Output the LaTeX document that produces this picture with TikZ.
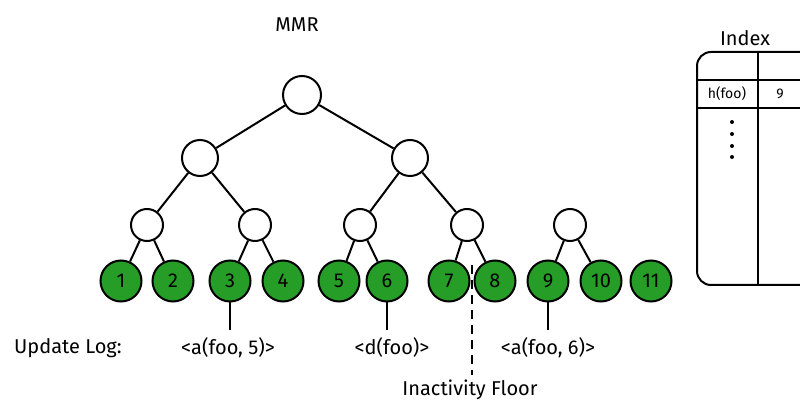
\documentclass[tikz,border=0pt]{standalone}
\usepackage{fontspec}
\setmainfont{Fira Sans}
\begin{document}
\begin{tikzpicture}[x=1pt,y=-1pt,line width=2pt,
 inner/.style={circle,draw,fill=white,minimum size=#1,inner sep=0pt},
 leaf/.style={circle,draw,fill=green!55!black!85,minimum size=41pt,inner sep=0pt,font=\fontsize{20}{20}\selectfont},
 lbl/.style={font=\fontsize{20}{20}\selectfont}]
\useasboundingbox (0,0) rectangle (800,419);
\node[lbl] (mmr) at (297,25) {MMR};
\node[inner=38pt] (r) at (302,95) {};
\node[inner=36pt] (a1) at (200,158) {};
\node[inner=36pt] (a2) at (410,158) {};
\foreach \n/\x in {b1/147,b2/255,b3/360,b4/467,b5/570}
  \node[inner=32pt] (\n) at (\x,225) {};
\foreach \i/\x in {1/121,2/173,3/230,4/283,5/339,6/387,7/449,8/495,9/548,10/601,11/651}
  \node[leaf] (l\i) at (\x,281) {\i};
\draw (r)--(a1); \draw (r)--(a2);
\draw (a1)--(b1); \draw (a1)--(b2); \draw (a2)--(b3); \draw (a2)--(b4);
\draw (b1)--(l1); \draw (b1)--(l2); \draw (b2)--(l3); \draw (b2)--(l4);
\draw (b3)--(l5); \draw (b3)--(l6); \draw (b4)--(l7); \draw (b4)--(l8);
\draw (b5)--(l9); \draw (b5)--(l10);
\coordinate (c3) at (230,330); \coordinate (c6) at (387,330); \coordinate (c9) at (548,330);
\draw (l3)--(c3); \draw (l6)--(c6); \draw (l9)--(c9);
\node[lbl,anchor=east] (ul) at (126,348) {Update Log:};
\node[lbl] (u1) at (228,348) {<a(foo, 5)>};
\node[lbl] (u2) at (392,348) {<d(foo)>};
\node[lbl] (u3) at (548,348) {<a(foo, 6)>};
\coordinate (f1) at (472,265); \coordinate (f2) at (472,375);
\draw[dash pattern=on 9pt off 6pt] (f1)--(f2);
\node[lbl] (fl) at (470,390) {Inactivity Floor};
\node[lbl] (ix) at (745,38) {Index};
\draw[rounded corners=14pt] (697,52) rectangle (820,285);
\draw (697,80)--(800,80); \draw (697,108)--(800,108); \draw (758,52)--(758,285);
\node[font=\fontsize{14}{14}\selectfont] (hf) at (727,94) {h(foo)};
\node[font=\fontsize{14}{14}\selectfont] (nine) at (780,94) {9};
\foreach \y in {122,134,146,157} \fill (732,\y) circle (2pt);
\end{tikzpicture}
\end{document}
